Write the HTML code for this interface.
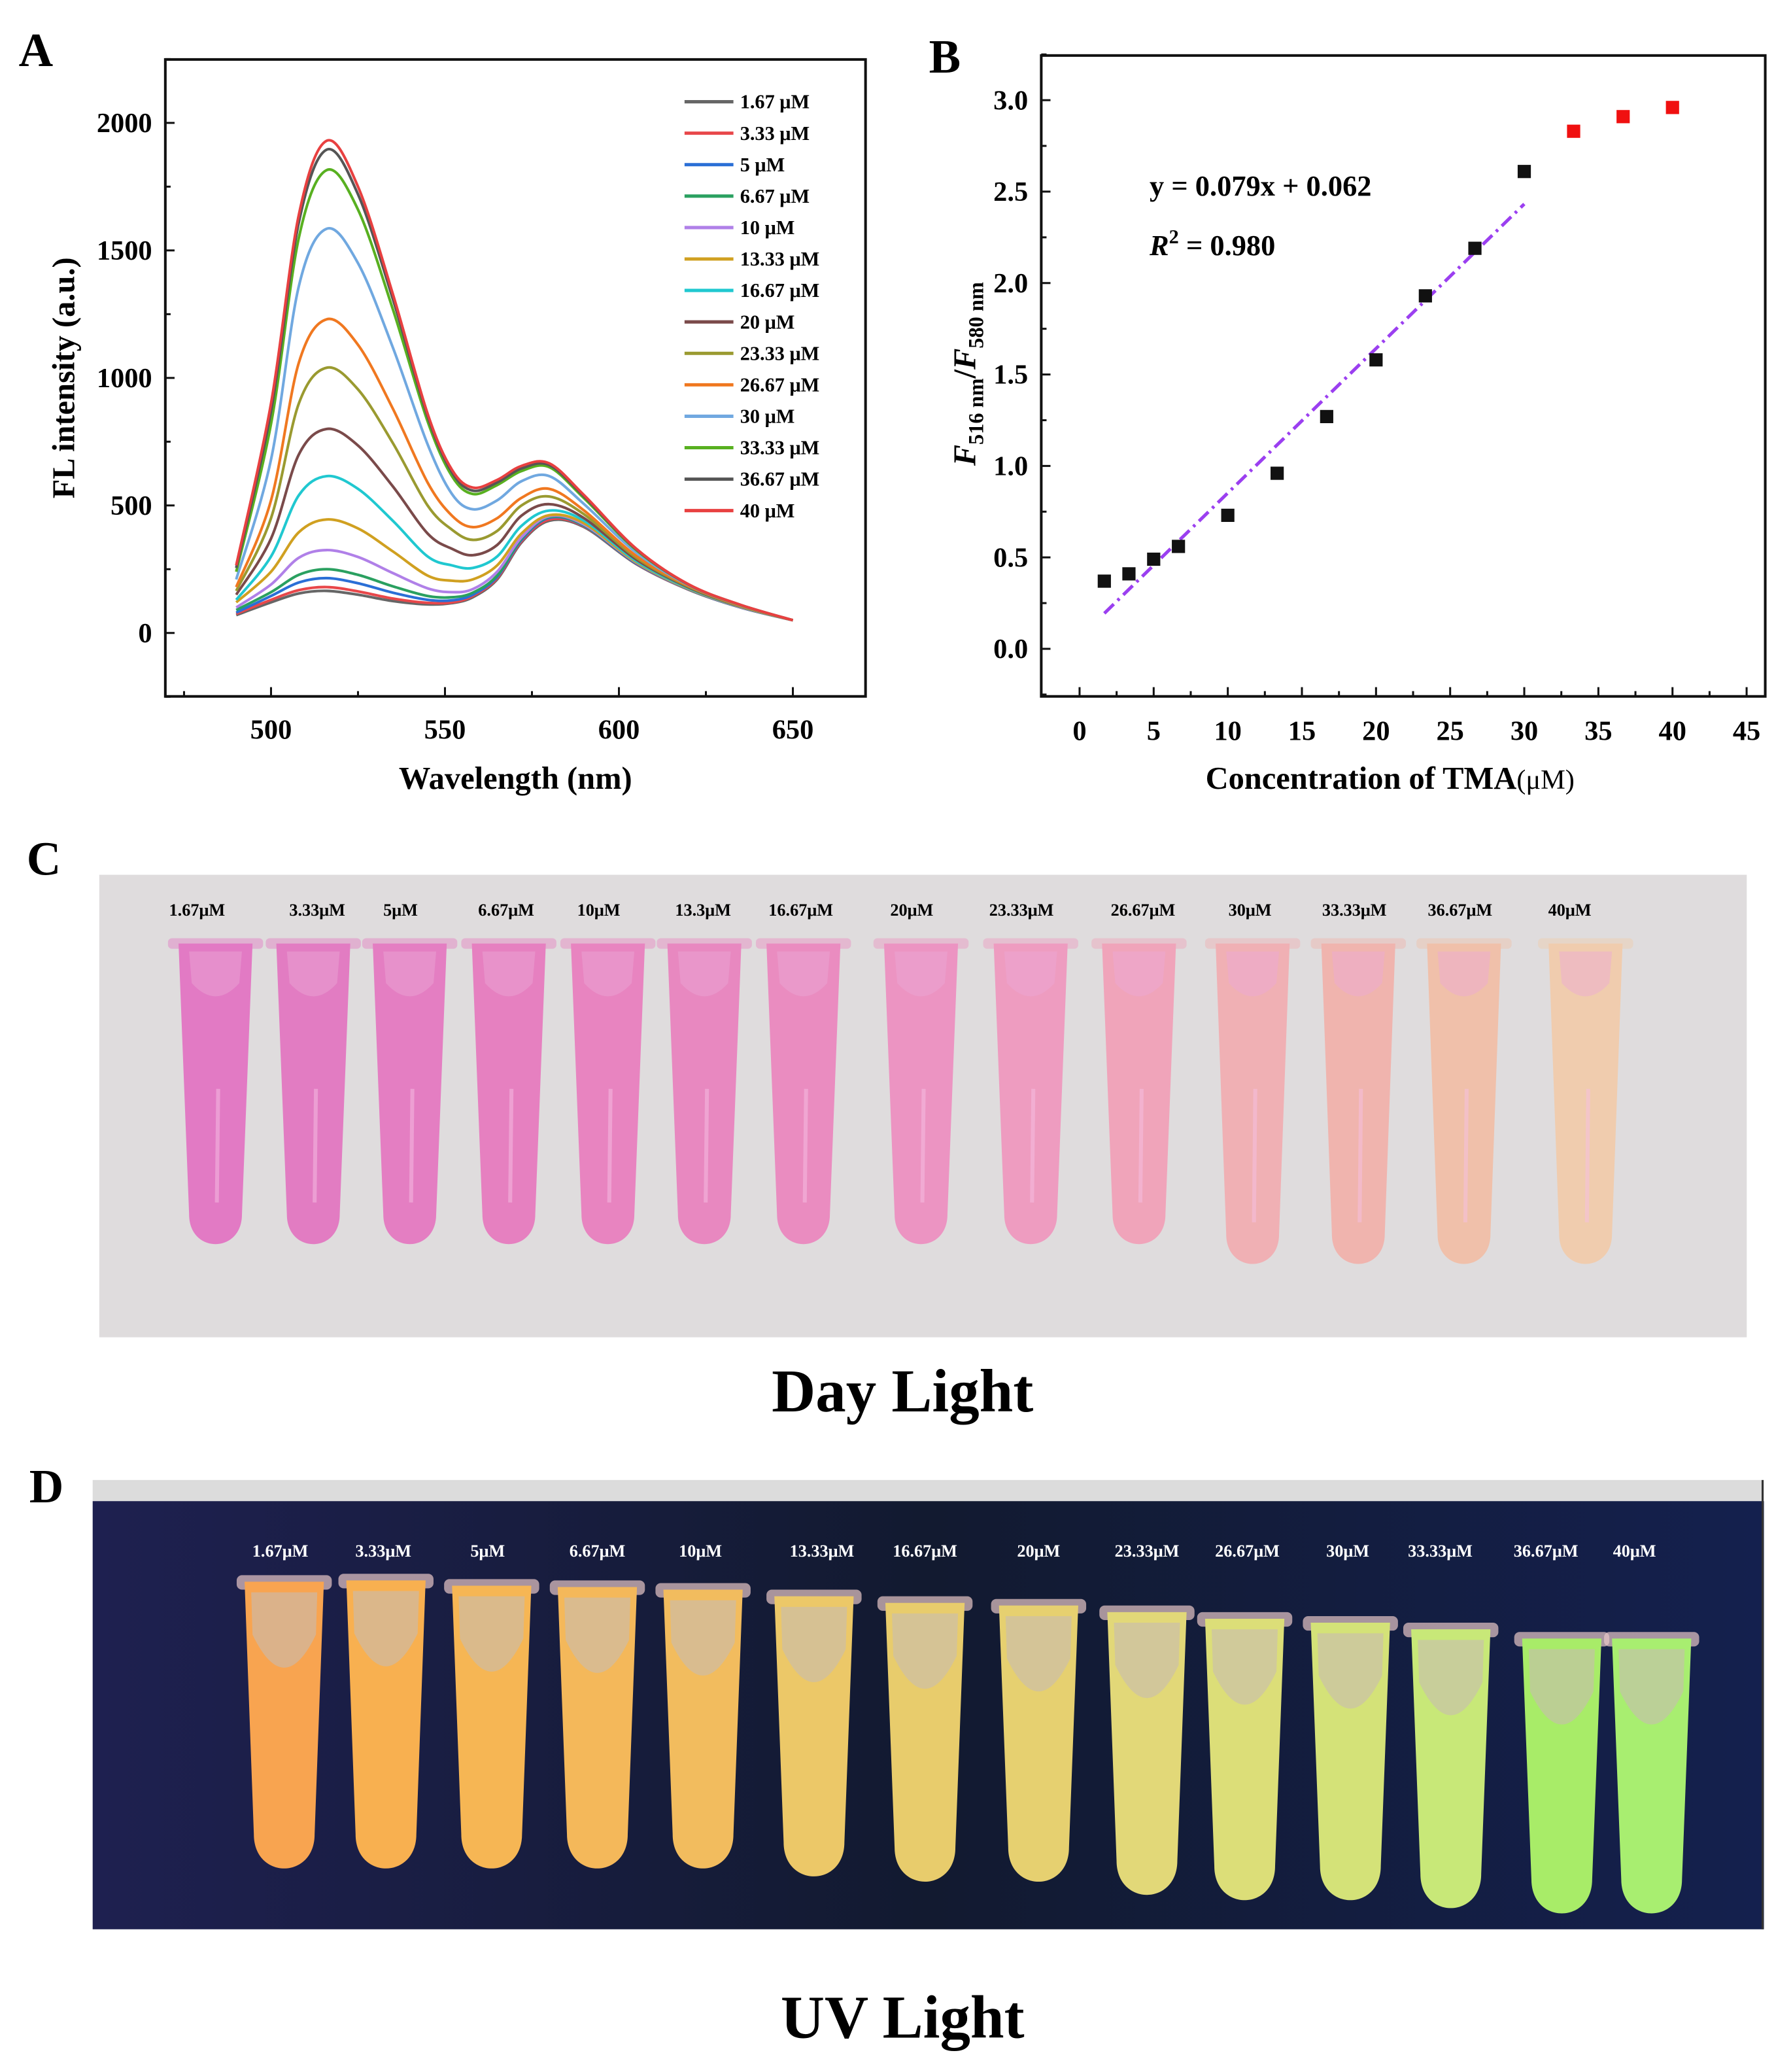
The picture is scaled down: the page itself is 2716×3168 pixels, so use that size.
<!DOCTYPE html>
<html><head><meta charset="utf-8"><style>
html,body{margin:0;padding:0;background:#fff;}
svg{display:block;font-family:"Liberation Serif",serif;font-weight:bold;}
</style></head><body>
<svg id="root" width="2716" height="3168" viewBox="0 0 1344 1568" xmlns="http://www.w3.org/2000/svg">
<defs>
<linearGradient id="navy" x1="0" x2="1" y1="0" y2="0"><stop offset="0" stop-color="#1e2050"/><stop offset="0.5" stop-color="#121a30"/><stop offset="1" stop-color="#14204e"/></linearGradient>
</defs>
<g id="panelA"></g>
<g id="panelB"></g>
<g id="panelC"></g>
<g id="panelD"></g>
</svg>
<script>
const NS="http://www.w3.org/2000/svg";
function mk(tag,attrs,parent,txt){const e=document.createElementNS(NS,tag);for(const k in attrs)e.setAttribute(k,attrs[k]);if(txt!==undefined)e.textContent=txt;parent.appendChild(e);return e;}

// ---------- Panel A data ----------
const wavelengths=[490,500,508,516,525,535,545,552,558,565,572,580,590,605,620,635,650];
const seriesLabels=["1.67 μM","3.33 μM","5 μM","6.67 μM","10 μM","13.33 μM","16.67 μM","20 μM","23.33 μM","26.67 μM","30 μM","33.33 μM","36.67 μM","40 μM"];
const seriesColors=["#666666","#e8474a","#2a6fd6","#2aa060","#b080e8","#d0a020","#20c8d0","#7a4a4a","#9a9a30","#f07820","#70a8e0","#58b020","#555555","#e84040"];
const s1=[70,120,155,165,150,125,112,117,140,210,355,440,415,270,170,100,50];
const s2=[75,130,168,180,163,135,118,120,145,215,360,445,418,272,170,100,50];
const s3=[80,145,198,215,195,158,130,128,150,220,365,452,420,273,171,100,50];
const s4=[90,160,228,250,228,183,145,140,158,225,370,455,422,275,172,101,50];
const s5=[100,190,295,325,298,235,175,160,172,240,375,458,425,276,173,101,50];
const s6=[120,240,395,445,410,320,225,205,210,265,390,462,430,278,174,102,50];
const s7=[130,300,540,615,565,440,300,265,255,300,420,480,440,282,176,103,50];
const s8=[150,370,700,800,735,575,390,330,305,345,460,505,450,288,179,104,50];
const s9=[165,450,900,1040,955,745,500,405,365,400,500,535,465,295,182,105,50];
const s10=[180,520,1060,1230,1130,880,590,460,415,450,530,565,480,302,185,106,50];
const s11=[210,680,1360,1585,1450,1120,740,545,485,520,595,615,505,315,188,108,50];
const s12=[240,820,1550,1815,1660,1270,830,615,545,580,635,650,528,325,190,109,50];
const s13=[255,870,1610,1895,1720,1310,850,630,558,590,645,658,535,328,190,110,50];
const s14=[265,900,1640,1930,1750,1330,860,640,570,600,655,665,540,330,191,110,50];
const seriesA=[s1,s2,s3,s4,s5,s6,s7,s8,s9,s10,s11,s12,s13,s14];
const xTicksA=[500,550,600,650];
const yTicksA=[0,500,1000,1500,2000];

// ---------- Panel B data ----------
const concBlack=[1.67,3.33,5,6.67,10,13.33,16.67,20,23.33,26.67,30];
const ratioBlack=[0.37,0.41,0.49,0.56,0.73,0.96,1.27,1.58,1.93,2.19,2.61];
const concRed=[33.33,36.67,40];
const ratioRed=[2.83,2.91,2.96];
const fitCoef=[0.079,0.062];
const fitRange=[1.67,30];
const xTicksB=[0,5,10,15,20,25,30,35,40,45];
const yTicksB=["0.0","0.5","1.0","1.5","2.0","2.5","3.0"];

// ---------- Panels C/D labels ----------
const dayLabels=["1.67μM","3.33μM","5μM","6.67μM","10μM","13.3μM","16.67μM","20μM","23.33μM","26.67μM","30μM","33.33μM","36.67μM","40μM"];
const uvLabels=["1.67μM","3.33μM","5μM","6.67μM","10μM","13.33μM","16.67μM","20μM","23.33μM","26.67μM","30μM","33.33μM","36.67μM","40μM"];

function tubePath(x,top,bot,wt,wb){
  return `M${x-wt},${top} L${x-wb},${bot-wb*1.3} C${x-wb},${bot+wb*0.2} ${x+wb},${bot+wb*0.2} ${x+wb},${bot-wb*1.3} L${x+wt},${top} Z`;
}

// ===== Panel A =====
(function(){
const g=document.getElementById('panelA');
const L=125,T=45,R=655,B=527;
const xA=v=>205+(v-500)*(395/150);
const yA=v=>479-v*(386/2000);
const lt=mk('text',{x:14,y:50,'font-size':36,fill:'#000'},g,'A');

const clipR=mk('clipPath',{id:'clipA'},g);mk('rect',{x:L,y:T,width:R-L,height:B-T},clipR);
const lines=mk('g',{'clip-path':'url(#clipA)'},g);
seriesA.forEach((arr,i)=>{
  const pts=arr.map((v,j)=>[xA(wavelengths[j]),yA(v)]);
  let d='M'+pts[0][0]+','+pts[0][1];
  for(let j=0;j<pts.length-1;j++){
    const p0=pts[j-1]||pts[j],p1=pts[j],p2=pts[j+1],p3=pts[j+2]||p2;
    const c1=[p1[0]+(p2[0]-p0[0])/6,p1[1]+(p2[1]-p0[1])/6];
    const c2=[p2[0]-(p3[0]-p1[0])/6,p2[1]-(p3[1]-p1[1])/6];
    d+=`C${c1[0]},${c1[1]} ${c2[0]},${c2[1]} ${p2[0]},${p2[1]}`;
  }
  const p=mk('path',{d:d,fill:'none',stroke:seriesColors[i],'stroke-width':2},lines);
  
  
});
const box=mk('rect',{x:L,y:T,width:R-L,height:B-T,fill:'none',stroke:'#111','stroke-width':2},g);

const xax=mk('g',{},g);
for(let v=475;v<=650;v+=25){mk('line',{x1:xA(v),x2:xA(v),y1:B,y2:B-(v%50?4:7),stroke:'#111','stroke-width':1.5},xax);}
xTicksA.forEach(v=>{const t=mk('text',{x:xA(v),y:B+32,'font-size':21,'text-anchor':'middle'},xax,v);});
const yax=mk('g',{},g);
for(let v=-250;v<=2250;v+=250){mk('line',{x1:L,x2:L+(v%500?4:7),y1:yA(v),y2:yA(v),stroke:'#111','stroke-width':1.5},yax);}
yTicksA.forEach(v=>{const t=mk('text',{x:L-10,y:yA(v)+7,'font-size':21,'text-anchor':'end'},yax,v);});
const xt=mk('text',{x:390,y:597,'font-size':24,'text-anchor':'middle'},g,'Wavelength (nm)');
const yt=mk('text',{x:0,y:0,'font-size':24,'text-anchor':'middle',transform:'translate(56,286) rotate(-90)'},g,'FL intensity (a.u.)');
const leg=mk('g',{},g);
seriesLabels.forEach((s,i)=>{const y=77+i*23.8;
 const e=mk('g',{},leg);
 mk('line',{x1:518,x2:555,y1:y,y2:y,stroke:seriesColors[i],'stroke-width':2.5},e);
 mk('text',{x:560,y:y+5,'font-size':15},e,s);});
})();

// ===== Panel B =====
(function(){
const g=document.getElementById('panelB');
const L=788,T=42,R=1336,B=527;
const xB=v=>817+v*11.22;
const yB=v=>491-v*138.4;
const lt=mk('text',{x:703,y:55,'font-size':36},g,'B');
const box=mk('rect',{x:L,y:T,width:R-L,height:B-T,fill:'none',stroke:'#111','stroke-width':2},g);

const xax=mk('g',{},g);
for(let v=0;v<=47.5;v+=2.5){mk('line',{x1:xB(v),x2:xB(v),y1:B,y2:B-(v%5?4:7),stroke:'#111','stroke-width':1.5},xax);}
xTicksB.forEach(v=>{const t=mk('text',{x:xB(v),y:B+33,'font-size':21,'text-anchor':'middle'},xax,v);});
const yax=mk('g',{},g);
for(let v=-0.25;v<=3.25;v+=0.25){mk('line',{x1:L,x2:L+(Math.round(v*4)%2?4:7),y1:yB(v),y2:yB(v),stroke:'#111','stroke-width':1.5},yax);}
yTicksB.forEach(s=>{const t=mk('text',{x:L-10,y:yB(parseFloat(s))+7,'font-size':21,'text-anchor':'end'},yax,s);});
const fit=mk('line',{x1:xB(fitRange[0]),y1:yB(fitCoef[0]*fitRange[0]+fitCoef[1]),x2:xB(fitRange[1]),y2:yB(fitCoef[0]*fitRange[1]+fitCoef[1]),stroke:'#9b3ff0','stroke-width':2.5,'stroke-dasharray':'10 4 2 4'},g);

concBlack.forEach((c,i)=>{const r=mk('rect',{x:xB(c)-5,y:yB(ratioBlack[i])-5,width:10,height:10,fill:'#111'},g);});
concRed.forEach((c,i)=>{const r=mk('rect',{x:xB(c)-5,y:yB(ratioRed[i])-5,width:10,height:10,fill:'#f01010'},g);});
const eq=mk('text',{x:870,y:148,'font-size':22},g,'y = 0.079x + 0.062');
const r2=mk('text',{x:870,y:193,'font-size':22},g);
mk('tspan',{'font-style':'italic'},r2,'R');mk('tspan',{dy:-9,'font-size':15},r2,'2');mk('tspan',{dy:9},r2,' = 0.980');
const xt=mk('text',{x:1052,y:597,'font-size':24,'text-anchor':'middle'},g);
mk('tspan',{},xt,'Concentration of TMA');mk('tspan',{'font-weight':'normal','font-size':21},xt,'(μM)');
const yt=mk('text',{x:0,y:0,'font-size':24,'text-anchor':'middle',transform:'translate(738,283) rotate(-90)'},g);
mk('tspan',{'font-style':'italic'},yt,'F');mk('tspan',{dy:6,'font-size':16},yt,'516 nm');mk('tspan',{dy:-6},yt,'/');mk('tspan',{'font-style':'italic'},yt,'F');mk('tspan',{dy:6,'font-size':16},yt,'580 nm');
})();

// ===== Panel C =====
(function(){
const g=document.getElementById('panelC');
const lt=mk('text',{x:20,y:662,'font-size':36},g,'C');
const bg=mk('rect',{x:75,y:662,width:1247,height:350,fill:'#dfdcdd'},g);
const lx=[149,240,303,383,453,532,606,690,773,865,946,1025,1105,1188];
const cx=[163,237,310,385,460,533,608,697,780,862,948,1028,1108,1200];
const col=["#e27ac4","#e27cc2","#e47ec2","#e680c0","#e884c0","#e888c0","#ea8cc0","#ec94c2","#ee9cc0","#f0a4ba","#f0b0b4","#f0b4ae","#f0c0aa","#f0ccae"];
dayLabels.forEach((s,i)=>{const t=mk('text',{x:lx[i],y:693,'font-size':13,'text-anchor':'middle'},g,s);
 const tb=mk('g',{},g);
 const x=cx[i],top=714,bot=945+(i>9?15:0);
 mk('rect',{x:x-36,y:top-4,width:72,height:8,rx:3,fill:col[i],opacity:0.45},tb);
 mk('path',{d:tubePath(x,top,bot,28,20),fill:col[i]},tb);
 mk('path',{d:`M${x-20},${top+6} L${x+20},${top+6} L${x+18},${top+30} Q${x},${top+50} ${x-18},${top+30} Z`,fill:'#eaa8d8',opacity:0.45},tb);
 mk('line',{x1:x+2,x2:x+1,y1:top+110,y2:bot-35,stroke:'#f6c0e4','stroke-width':3,opacity:0.5},tb);});
const tt=mk('text',{x:683,y:1068,'font-size':46,'text-anchor':'middle'},g,'Day Light');
})();

// ===== Panel D =====
(function(){
const g=document.getElementById('panelD');
const lt=mk('text',{x:22,y:1137,'font-size':36},g,'D');
const strip=mk('rect',{x:70,y:1120,width:1265,height:16,fill:'#dcdcdc'},g);
const bg=mk('rect',{x:70,y:1136,width:1265,height:324,fill:'url(#navy)'},g);
mk('line',{x1:1334,x2:1334,y1:1120,y2:1460,stroke:'#333','stroke-width':1.5},g);
const lx=[212,290,369,452,530,622,700,786,868,944,1020,1090,1170,1237];
const cx=[215,292,372,452,532,616,700,786,868,942,1022,1098,1182,1250];
const tops=[1197,1196,1200,1201,1203,1208,1213,1215,1220,1225,1228,1233,1240,1240];
const bots=[1418,1418,1418,1418,1418,1424,1428,1428,1438,1442,1442,1448,1452,1452];
const col=["#f8a450","#f8b050","#f6b654","#f4b85a","#f2bc5e","#ecc868","#e8cc6c","#e6d070","#e2d878","#dcde78","#d4e278","#c8e878","#a8ec68","#a8ee70"];
uvLabels.forEach((s,i)=>{const t=mk('text',{x:lx[i],y:1178,'font-size':13,'text-anchor':'middle',fill:'#fff'},g,s);
 const tb=mk('g',{},g);
 const x=cx[i],top=tops[i],bot=bots[i];
 mk('rect',{x:x-36,y:top-5,width:72,height:11,rx:4,fill:'#e8c8c8',opacity:0.7},tb);
 mk('path',{d:tubePath(x,top,bot,30,23),fill:col[i]},tb);
 mk('path',{d:`M${x-25},${top+8} L${x+25},${top+8} L${x+24},${top+40} Q${x},${top+90} ${x-24},${top+40} Z`,fill:'#c8bcb0',opacity:0.6},tb);});
const tt=mk('text',{x:683,y:1542,'font-size':46,'text-anchor':'middle'},g,'UV Light');
})();
</script>
</body></html>
